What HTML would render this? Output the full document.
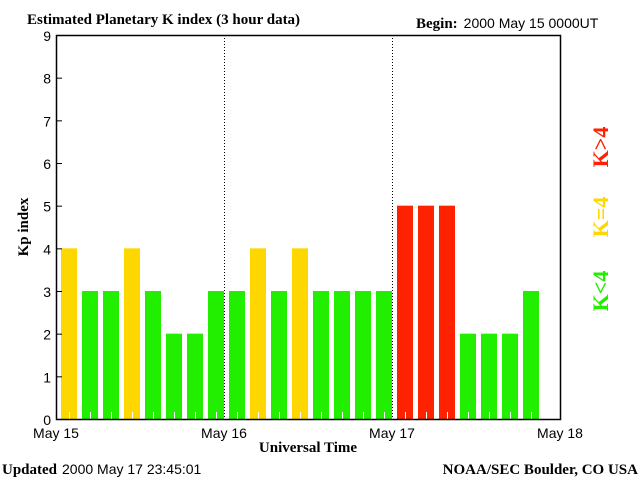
<!DOCTYPE html>
<html><head><meta charset="utf-8"><style>
body{margin:0;background:#fff;width:640px;height:480px;overflow:hidden}
svg{display:block}
.s{font-family:"Liberation Sans",sans-serif;font-size:14px}
.b{font-family:"Liberation Serif",serif;font-weight:bold;font-size:15px}
.lg{font-family:"Liberation Serif",serif;font-weight:bold;font-size:22px}
</style></head><body>
<svg width="640" height="480" id="c">
<text class="b" x="27" y="24">Estimated Planetary K index (3 hour data)</text>
<text x="416" y="28"><tspan class="b">Begin:</tspan><tspan class="s" dx="6">2000 May 15 0000UT</tspan></text>
<text class="b" transform="translate(28,227) rotate(-90)" text-anchor="middle">Kp index</text>
<text class="b" x="308" y="452" text-anchor="middle">Universal Time</text>
<text x="2" y="474"><tspan class="b">Updated</tspan><tspan class="s" dx="5">2000 May 17 23:45:01</tspan></text>
<text class="b" x="638" y="474" text-anchor="end">NOAA/SEC Boulder, CO USA</text>
<text class="lg" fill="#22ee00" transform="translate(608,291) rotate(-90)" text-anchor="middle">K&lt;4</text>
<text class="lg" fill="#ffd700" transform="translate(608,217) rotate(-90)" text-anchor="middle">K=4</text>
<text class="lg" fill="#ff2200" transform="translate(608,147) rotate(-90)" text-anchor="middle">K&gt;4</text>
<g id="plot"></g>
</svg>
<script>
const values=[4,3,3,4,3,2,2,3, 3,4,3,4,3,3,3,3, 5,5,5,2,2,2,3];
const yTicks=[0,1,2,3,4,5,6,7,8,9];
const xLabels=["May 15","May 16","May 17","May 18"];
const L=56,R=560,T=35,B=419,slots=24;
const x=i=>L+(R-L)*i/slots;
const y=v=>B-(B-T)*v/9;
const g=document.getElementById('plot');
const NS="http://www.w3.org/2000/svg";
function mk(t,a){const e=document.createElementNS(NS,t);for(const k in a)e.setAttribute(k,a[k]);g.appendChild(e);return e;}
values.forEach((v,i)=>{
 const c=v>4?"#ff2200":v==4?"#ffd700":"#22ee00";
 const r=mk('rect',{x:x(i)+5,y:y(v),width:16,height:B-y(v),fill:c});
 
 
 const t=mk('line',{x1:x(i)+13.5,x2:x(i)+13.5,y1:B-7,y2:B,stroke:"#fff"});
 
 
});
[1,2].forEach(d=>{const l=mk('line',{x1:x(d*8)+0.5,x2:x(d*8)+0.5,y1:T,y2:B,stroke:"#000","stroke-dasharray":"1,2"});
 
 });
const f=mk('rect',{x:L+0.5,y:T+0.5,width:R-L,height:B-T,fill:"none",stroke:"#000","stroke-width":1.5});


yTicks.forEach(v=>{
 const l=mk('line',{x1:L,x2:L+6,y1:y(v)+0.5,y2:y(v)+0.5,stroke:"#000"});
 
 
 const t=mk('text',{x:L-5,y:y(v)+6,"text-anchor":"end",class:"s"});t.textContent=v;
 
 
});
xLabels.forEach((s,i)=>{const t=mk('text',{x:x(i*8),y:438,"text-anchor":"middle",class:"s"});t.textContent=s;
 
 });
</script>
</body></html>
